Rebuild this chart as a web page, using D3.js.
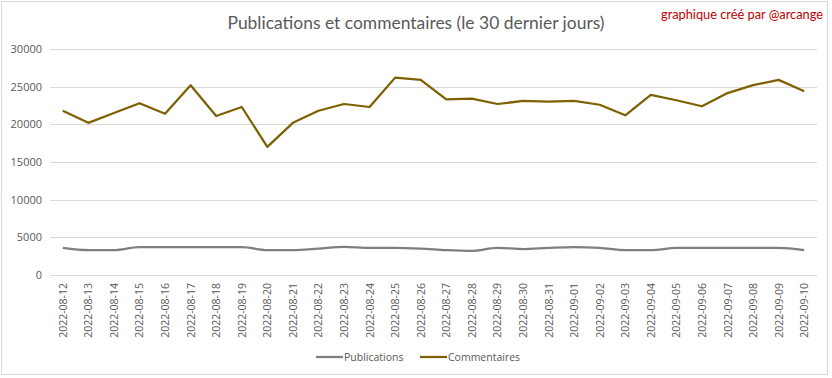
<!DOCTYPE html>
<html><head><meta charset="utf-8">
<script src="https://cdn.jsdelivr.net/npm/d3@7"></script>
<style>body{margin:0;background:#fff;}svg{display:block;}</style>
</head><body>
<svg id="c" width="832" height="378"></svg>
<script>
const dates = ["2022-08-12","2022-08-13","2022-08-14","2022-08-15","2022-08-16","2022-08-17","2022-08-18","2022-08-19","2022-08-20","2022-08-21","2022-08-22","2022-08-23","2022-08-24","2022-08-25","2022-08-26","2022-08-27","2022-08-28","2022-08-29","2022-08-30","2022-08-31","2022-09-01","2022-09-02","2022-09-03","2022-09-04","2022-09-05","2022-09-06","2022-09-07","2022-09-08","2022-09-09","2022-09-10"];
const publications = [3600,3300,3300,3700,3700,3700,3700,3700,3300,3300,3500,3750,3600,3600,3500,3300,3200,3600,3450,3600,3700,3600,3300,3300,3600,3600,3600,3600,3600,3300];
const commentaires = [21800,20200,21500,22800,21400,25200,21100,22300,17000,20200,21800,22700,22300,26200,25900,23300,23400,22700,23100,23000,23100,22600,21200,23900,23200,22400,24150,25200,25900,24400];
const yTicks = [0,5000,10000,15000,20000,25000,30000];
const seriesNames = ["Publications","Commentaires"];
const seriesColors = ["#7f7f7f","#7f6000"];
const titleText = "Publications et commentaires (le 30 dernier jours)";
const creditText = "graphique créé par @arcange";

const svg = d3.select("#c");
const W = 832, H = 378;
const m = {left:50, right:15, top:49, bottom:103};

svg.append("rect").attr("x",1.5).attr("y",1.5).attr("width",W-6).attr("height",H-5)
  .attr("fill","#fff").attr("stroke","#d9d9d9").attr("stroke-width",1);

const x = d3.scaleBand().domain(dates).range([m.left, W-m.right]);
const y = d3.scaleLinear().domain([0,30000]).range([H-m.bottom, m.top]);

// grid
svg.append("g").selectAll("line").data(yTicks).join("line")
  .attr("x1",m.left).attr("x2",W-m.right)
  .attr("y1",d=>Math.round(y(d))+0.5).attr("y2",d=>Math.round(y(d))+0.5)
  .attr("stroke","#d9d9d9").attr("stroke-width",1);

// y axis labels
const yAxis = d3.axisLeft(y).tickValues(yTicks).tickSize(0).tickPadding(8).tickFormat(d3.format("d"));
const gy = svg.append("g").attr("transform",`translate(${m.left},0)`).call(yAxis);
gy.select(".domain").remove();
gy.selectAll("text").attr("fill","#595959").attr("font-family","Open Sans").attr("font-size","11px");

// x axis labels
const xAxis = d3.axisBottom(x).tickSize(0).tickPadding(0);
const gx = svg.append("g").attr("transform",`translate(0,${H-m.bottom})`).call(xAxis);
gx.select(".domain").remove();
gx.selectAll("text").attr("fill","#595959").attr("font-family","Open Sans").attr("font-size","10.5px")
  .attr("text-anchor","end").attr("dy",null)
  .attr("transform","translate(4,8) rotate(-90)");

// lines
const cx = d => x(d) + x.bandwidth()/2;
const linePub = d3.line().x((d,i)=>cx(dates[i])).y(d=>y(d)).curve(d3.curveMonotoneX);
const lineCom = d3.line().x((d,i)=>cx(dates[i])).y(d=>y(d));
svg.append("path").datum(publications).attr("d",linePub).attr("fill","none")
  .attr("stroke",seriesColors[0]).attr("stroke-width",2.25).attr("stroke-linejoin","round");
svg.append("path").datum(commentaires).attr("d",lineCom).attr("fill","none")
  .attr("stroke",seriesColors[1]).attr("stroke-width",2.25).attr("stroke-linejoin","round");

// title
svg.append("text").attr("x",416).attr("y",29).attr("text-anchor","middle")
  .attr("font-family","Lato").attr("font-size","17px").attr("fill","#595959")
  .attr("textLength",377).attr("lengthAdjust","spacingAndGlyphs").text(titleText);

svg.append("text").attr("x",823).attr("y",19).attr("text-anchor","end")
  .attr("font-family","Lato").attr("font-size","12.5px").attr("fill","#c00000")
  .attr("textLength",162).attr("lengthAdjust","spacingAndGlyphs").text(creditText);

// legend
const leg = [{x:316, name:seriesNames[0], c:seriesColors[0]},{x:420, name:seriesNames[1], c:seriesColors[1]}];
const lg = svg.append("g");
leg.forEach(l=>{
  lg.append("line").attr("x1",l.x).attr("x2",l.x+27).attr("y1",357).attr("y2",357)
    .attr("stroke",l.c).attr("stroke-width",2.25);
  lg.append("text").attr("x",l.x+28).attr("y",361).attr("font-family","Open Sans")
    .attr("font-size","10.5px").attr("fill","#595959").text(l.name);
});
</script>
</body></html>
